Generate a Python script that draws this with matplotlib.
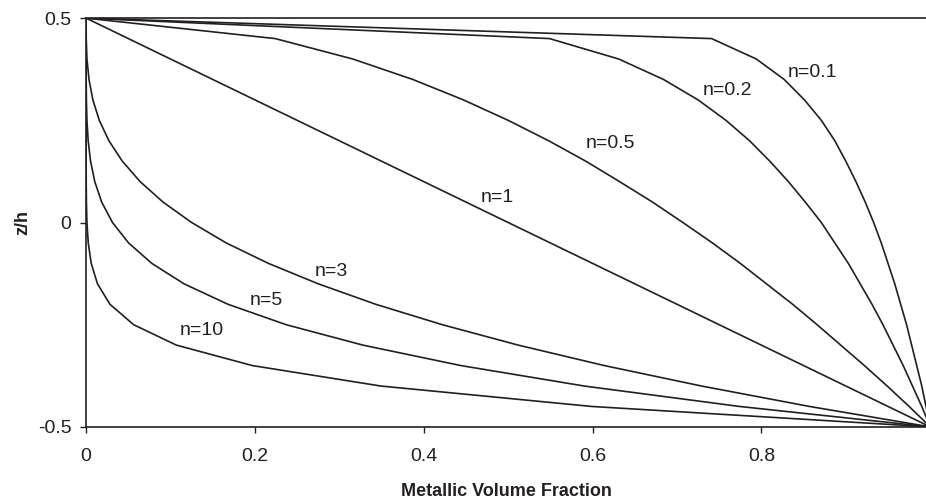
import matplotlib
matplotlib.use("Agg")
import matplotlib.pyplot as plt

plt.rcParams['font.family'] = ['Liberation Sans', 'DejaVu Sans']

# z/h positions shared by all curves (0.05 steps)
z_vals = [0.5, 0.45, 0.4, 0.35, 0.3, 0.25, 0.2, 0.15, 0.1, 0.05, 0.0,
          -0.05, -0.1, -0.15, -0.2, -0.25, -0.3, -0.35, -0.4, -0.45, -0.5]

# metallic volume fraction of each curve at the z/h positions above
v_n01 = [0, 0.741, 0.794, 0.827, 0.851, 0.871, 0.887, 0.900, 0.912, 0.923, 0.933,
         0.942, 0.950, 0.958, 0.965, 0.972, 0.978, 0.984, 0.990, 0.995, 1.0]
v_n02 = [0, 0.549, 0.631, 0.684, 0.725, 0.758, 0.786, 0.810, 0.832, 0.852, 0.871,
         0.887, 0.903, 0.917, 0.931, 0.944, 0.956, 0.968, 0.979, 0.990, 1.0]
v_n05 = [0, 0.224, 0.316, 0.387, 0.447, 0.500, 0.548, 0.592, 0.632, 0.671, 0.707,
         0.742, 0.775, 0.806, 0.837, 0.866, 0.894, 0.922, 0.949, 0.975, 1.0]
v_n1 = [0, 0.05, 0.1, 0.15, 0.2, 0.25, 0.3, 0.35, 0.4, 0.45, 0.5,
        0.55, 0.6, 0.65, 0.7, 0.75, 0.8, 0.85, 0.9, 0.95, 1.0]
v_n3 = [0, 0.000125, 0.001, 0.0034, 0.008, 0.0156, 0.027, 0.0429, 0.064, 0.0911, 0.125,
        0.166, 0.216, 0.275, 0.343, 0.422, 0.512, 0.614, 0.729, 0.857, 1.0]
v_n5 = [0, 0, 0.00001, 0.000076, 0.00032, 0.00098, 0.00243, 0.00525, 0.01024, 0.01845, 0.03125,
        0.0503, 0.0778, 0.116, 0.168, 0.237, 0.328, 0.444, 0.590, 0.774, 1.0]
v_n10 = [0, 0, 0, 0, 0, 0.000001, 0.0000059, 0.0000276, 0.0001, 0.00034, 0.000977,
         0.00253, 0.00605, 0.01346, 0.0282, 0.0563, 0.107, 0.197, 0.349, 0.599, 1.0]

curves = [v_n01, v_n02, v_n05, v_n1, v_n3, v_n5, v_n10]
labels = ['n=0.1', 'n=0.2', 'n=0.5', 'n=1', 'n=3', 'n=5', 'n=10']
label_x = [0.860, 0.760, 0.621, 0.487, 0.291, 0.214, 0.137]
label_z = [0.368, 0.322, 0.194, 0.062, -0.121, -0.190, -0.263]

x_ticks = [0, 0.2, 0.4, 0.6, 0.8]
x_tick_labels = ['0', '0.2', '0.4', '0.6', '0.8']
y_ticks = [-0.5, 0, 0.5]
y_tick_labels = ['-0.5', '0', '0.5']

INK = '#231f20'


def main():
    fig = plt.figure(figsize=(9.26, 5.04), dpi=100)
    ax = fig.add_axes([0.093, 0.153, 0.907, 0.811])

    # one black line per n, label written next to it
    for v, lab, lx, lz in zip(curves, labels, label_x, label_z):
        ax.plot(v, z_vals, color=INK, lw=1.2)
        ax.text(lx, lz, lab, fontsize=14, ha='center', va='center', color=INK)

    ax.set_xlim(0, 0.995)
    ax.set_ylim(-0.5, 0.5)
    ax.set_xticks(x_ticks)
    ax.set_xticklabels(x_tick_labels)
    ax.set_yticks(y_ticks)
    ax.set_yticklabels(y_tick_labels)
    ax.tick_params(labelsize=14, colors=INK, length=4.5, width=1)
    ax.tick_params(axis='x', pad=11)
    ax.tick_params(axis='y', pad=6)

    ax.spines['right'].set_visible(False)
    for s in ['top', 'left', 'bottom']:
        ax.spines[s].set_color(INK)
        ax.spines[s].set_linewidth(1.2)

    ax.set_xlabel('Metallic Volume Fraction', fontsize=13, fontweight='bold',
                  labelpad=13, color=INK)
    ax.set_ylabel('z/h', fontsize=13, fontweight='bold', labelpad=5, color=INK)

    fig.savefig('out.png', dpi=100)


if __name__ == "__main__":
    main()
